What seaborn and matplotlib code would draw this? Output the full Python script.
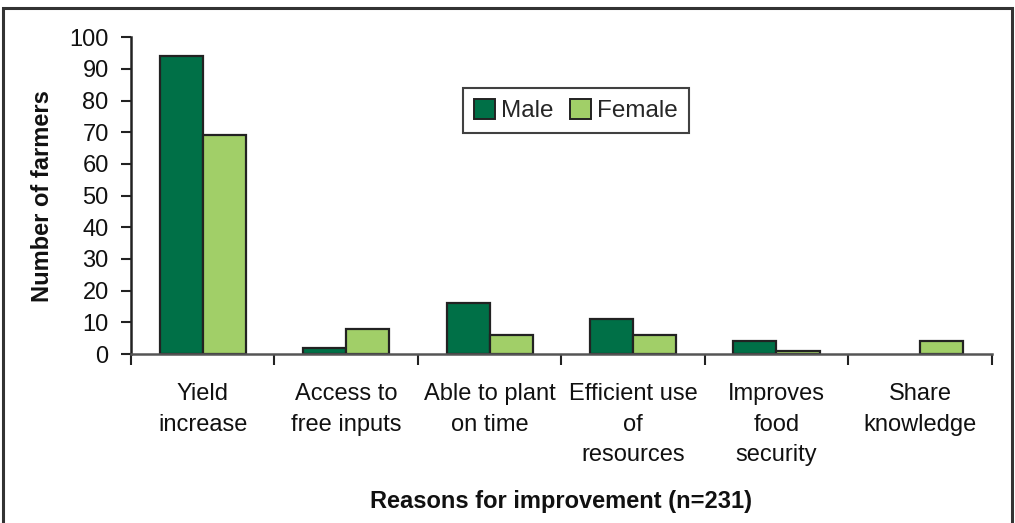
import matplotlib
matplotlib.use("Agg")
import matplotlib.pyplot as plt
import matplotlib.patches as mpatches
from matplotlib.ticker import FixedLocator, NullFormatter
import pandas as pd
import seaborn as sns

# Survey results: number of farmers per reason, by gender
categories = [
    "Yield\nincrease",
    "Access to\nfree inputs",
    "Able to plant\non time",
    "Efficient use\nof\nresources",
    "Improves\nfood\nsecurity",
    "Share\nknowledge",
]
male = [94, 2, 16, 11, 4, 0]
female = [69, 8, 6, 6, 1, 4]
series_names = ["Male", "Female"]
y_ticks = [0, 10, 20, 30, 40, 50, 60, 70, 80, 90, 100]

df = pd.DataFrame({
    "reason": categories * 2,
    "count": male + female,
    "gender": [series_names[0]] * len(categories) + [series_names[1]] * len(categories),
})

sns.set_theme(style="white")
plt.rcParams["font.family"] = ["Liberation Sans", "DejaVu Sans"]

fig = plt.figure(figsize=(10.15, 5.23), dpi=100)
fig.patch.set_facecolor("white")
ax = fig.add_axes([0.129, 0.323, 0.848, 0.606])

palette = {"Male": "#007047", "Female": "#a1cf68"}
sns.barplot(
    data=df, x="reason", y="count", hue="gender", order=categories,
    hue_order=series_names, palette=palette, width=0.6, saturation=1,
    edgecolor="#222222", linewidth=1.6, ax=ax,
)
# empty bars leave no outline on the baseline
for bar in ax.patches:
    if bar.get_height() == 0:
        bar.set_linewidth(0)

ax.set_xlim(-0.5, 5.5)
ax.set_ylim(0, 100)
ax.set_yticks(y_ticks)
ax.tick_params(axis="y", which="major", direction="out", length=7, width=1.5,
               color="#222222", labelsize=17, labelcolor="#111111", pad=9, left=True)

# category labels without tick marks; tick marks at the group boundaries
ax.tick_params(axis="x", which="major", length=0, labelsize=17, labelcolor="#111111", pad=21)
for lbl in ax.get_xticklabels():
    lbl.set_linespacing(1.5)
    lbl.set_verticalalignment("top")
ax.xaxis.set_minor_locator(FixedLocator([i - 0.5 for i in range(len(categories) + 1)]))
ax.xaxis.set_minor_formatter(NullFormatter())
ax.tick_params(axis="x", which="minor", direction="out", length=8, width=1.5,
               color="#222222", bottom=True)

for side in ["top", "right"]:
    ax.spines[side].set_visible(False)
ax.spines["left"].set_color("#222222")
ax.spines["left"].set_linewidth(1.8)
ax.spines["bottom"].set_color("#555555")
ax.spines["bottom"].set_linewidth(1.8)

label_font = dict(family=["Liberation Sans", "DejaVu Sans"],
                  fontsize=17, fontweight="bold", color="#111111")
ax.set_xlabel("Reasons for improvement (n=231)", **label_font)
ax.set_ylabel("Number of farmers", **label_font)
ax.xaxis.set_label_coords(0.5, -0.43)
ax.yaxis.set_label_coords(-0.089, 0.5)

handles, labels = ax.get_legend_handles_labels()
leg = ax.legend(handles, labels, loc="upper left", bbox_to_anchor=(0.372, 0.877),
                ncol=2, frameon=True, fancybox=False, fontsize=17.5,
                handlelength=0.85, handleheight=0.85, handletextpad=0.25,
                columnspacing=0.7, borderpad=0.45)
leg.get_frame().set_edgecolor("#111111")
leg.get_frame().set_linewidth(1.5)
for h in leg.legend_handles:
    h.set_edgecolor("#222222")
    h.set_linewidth(1.4)

# outer frame around the figure
frame = mpatches.Rectangle((0.003, -0.05), 0.994, 1.035, transform=fig.transFigure,
                           fill=False, edgecolor="#333333", linewidth=2.2, clip_on=False)
fig.add_artist(frame)

fig.savefig("out.png", dpi=100)
